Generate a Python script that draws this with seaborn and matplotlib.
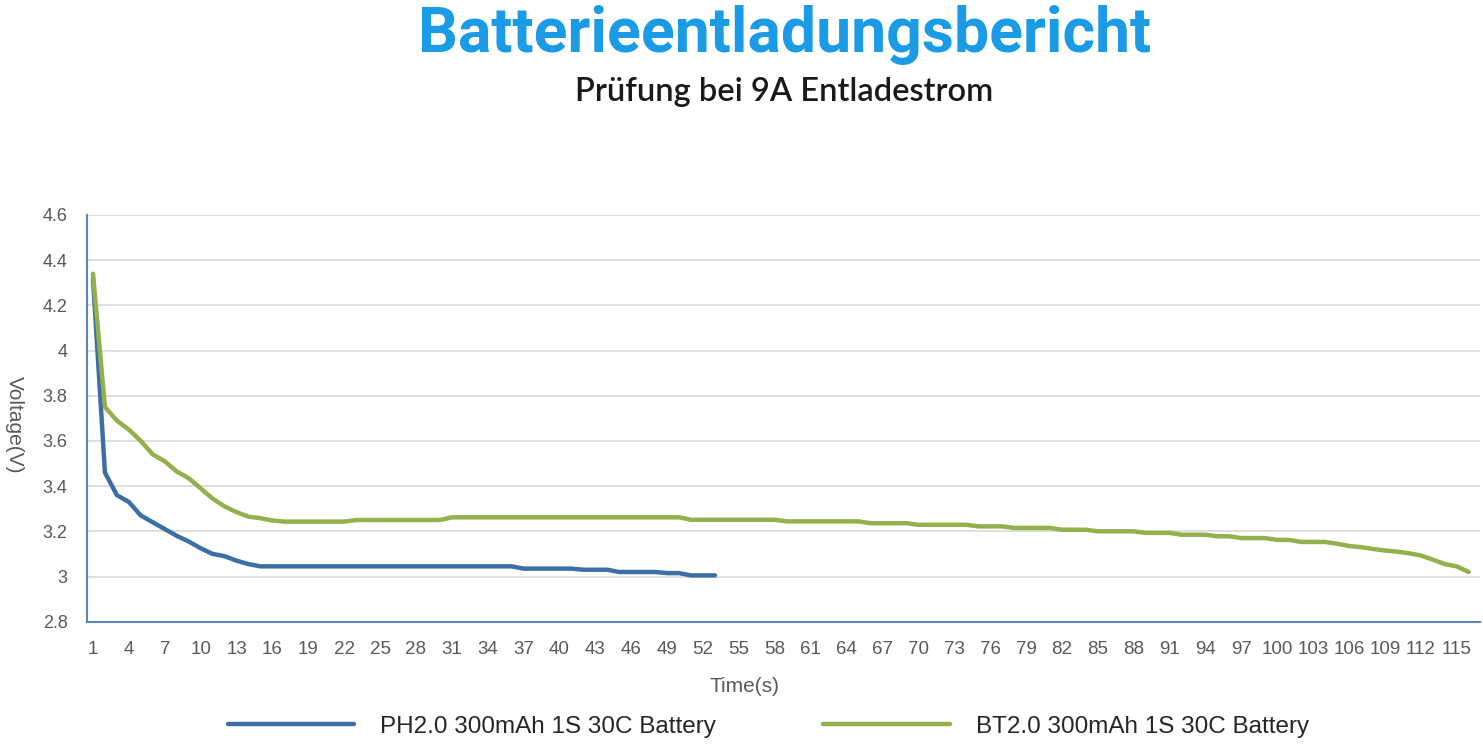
import numpy as np
import pandas as pd
import matplotlib
matplotlib.use("Agg")
import matplotlib.pyplot as plt
from matplotlib.ticker import MultipleLocator, FixedLocator, FormatStrFormatter
import seaborn as sns

# voltage readings, one per second
ph_volts = [4.32, 3.46, 3.36, 3.33, 3.27, 3.24, 3.21, 3.18, 3.155, 3.125,
            3.10, 3.09, 3.07, 3.055, 3.045, 3.045, 3.045, 3.045, 3.045, 3.045,
            3.045, 3.045, 3.045, 3.045, 3.045, 3.045, 3.045, 3.045, 3.045, 3.045,
            3.045, 3.045, 3.045, 3.045, 3.045, 3.045, 3.035, 3.035, 3.035, 3.035,
            3.035, 3.03, 3.03, 3.03, 3.02, 3.02, 3.02, 3.02, 3.015, 3.015,
            3.005, 3.005, 3.005]

bt_volts = [4.34, 3.75, 3.69, 3.65, 3.60, 3.54, 3.51, 3.465, 3.435, 3.39,
            3.345, 3.31, 3.285, 3.265, 3.258, 3.248, 3.243, 3.243, 3.243, 3.243,
            3.243, 3.243, 3.25, 3.25, 3.25, 3.25, 3.25, 3.25, 3.25, 3.25,
            3.262, 3.262, 3.262, 3.262, 3.262, 3.262, 3.262, 3.262, 3.262, 3.262,
            3.262, 3.262, 3.262, 3.262, 3.262, 3.262, 3.262, 3.262, 3.262, 3.262,
            3.251, 3.251, 3.251, 3.251, 3.251, 3.251, 3.251, 3.251, 3.244, 3.244,
            3.244, 3.244, 3.244, 3.244, 3.244, 3.236, 3.236, 3.236, 3.236, 3.229,
            3.229, 3.229, 3.229, 3.229, 3.222, 3.222, 3.222, 3.215, 3.215, 3.215,
            3.215, 3.207, 3.207, 3.207, 3.20, 3.20, 3.20, 3.20, 3.193, 3.193,
            3.193, 3.185, 3.185, 3.185, 3.178, 3.178, 3.17, 3.17, 3.17, 3.162,
            3.162, 3.153, 3.153, 3.153, 3.145, 3.135, 3.13, 3.122, 3.115, 3.11,
            3.103, 3.093, 3.075, 3.055, 3.045, 3.02]

ph_label = "PH2.0 300mAh 1S 30C Battery"
bt_label = "BT2.0 300mAh 1S 30C Battery"

ph = pd.DataFrame({"t": range(1, len(ph_volts) + 1), "v": ph_volts})
bt = pd.DataFrame({"t": range(1, len(bt_volts) + 1), "v": bt_volts})

blue = "#3d6fa6"
green = "#92b04c"
axis_col = "#5b86b8"
txt = "#595959"

sns.set_style("white")
plt.rcParams["font.family"] = ["Liberation Sans", "DejaVu Sans"]

fig = plt.figure(figsize=(14.83, 7.44), dpi=100)
ax = fig.add_axes([87 / 1483, 1 - 621.7 / 744, 1393 / 1483, (621.7 - 215) / 744])

sns.lineplot(data=ph, x="t", y="v", ax=ax, color=blue, lw=3.2, label=ph_label,
             solid_capstyle="round")
sns.lineplot(data=bt, x="t", y="v", ax=ax, color=green, lw=3.2, label=bt_label,
             solid_capstyle="round")

ax.set_xlim(0.5, 116.95)
ax.set_ylim(2.8, 4.6)

# y axis
ax.yaxis.set_major_locator(MultipleLocator(0.2))
ax.yaxis.set_minor_locator(MultipleLocator(0.02))
ax.yaxis.set_major_formatter(FormatStrFormatter("%g"))
ax.yaxis.grid(True, color="#d9d9d9", lw=1.2)
ax.tick_params(axis="y", which="major", direction="out", length=6, width=1.2,
               color=axis_col, labelsize=13, labelcolor=txt, pad=8)
ax.tick_params(axis="y", which="minor", direction="out", length=3, width=1,
               color=axis_col)

# x axis: labels every 3 s, small ticks between categories
ax.xaxis.set_major_locator(FixedLocator(list(range(1, 117, 3))))
ax.xaxis.set_minor_locator(FixedLocator(list(np.arange(0.5, 117, 1.0))))
ax.tick_params(axis="x", which="major", length=0, labelsize=13.5, labelcolor=txt, pad=14)
ax.tick_params(axis="x", which="minor", direction="in", length=4, width=1,
               color=axis_col)

for s in ["top", "right"]:
    ax.spines[s].set_visible(False)
for s in ["left", "bottom"]:
    ax.spines[s].set_color(axis_col)
    ax.spines[s].set_linewidth(1.5)

ax.set_xlabel("Time(s)", fontsize=15, color=txt)
ax.xaxis.set_label_coords((745 - 87) / 1393, -0.135)
ax.set_ylabel("Voltage(V)", fontsize=15, color=txt, rotation=-90)
ax.yaxis.set_label_coords(-0.059, 0.484)

ax.get_legend().remove()
handles, labels = ax.get_legend_handles_labels()
fig.legend(handles, labels, loc="center left", bbox_to_anchor=(228 / 1483, 0.023),
           ncol=2, frameon=False, borderpad=0, borderaxespad=0,
           prop={"size": 17.5}, handlelength=5.2,
           handletextpad=1.07, columnspacing=4.4)

fig.text(0.529, 0.953, "Batterieentladungsbericht", ha="center", va="center",
         fontsize=45, fontweight="bold", color="#1b9be6", family="Roboto")
fig.text(0.529, 0.876, "Prüfung bei 9A Entladestrom", ha="center", va="center",
         fontsize=23.5, fontweight="semibold", color="#1a1a1a", family="Lato")

fig.savefig("out.png", dpi=100)
